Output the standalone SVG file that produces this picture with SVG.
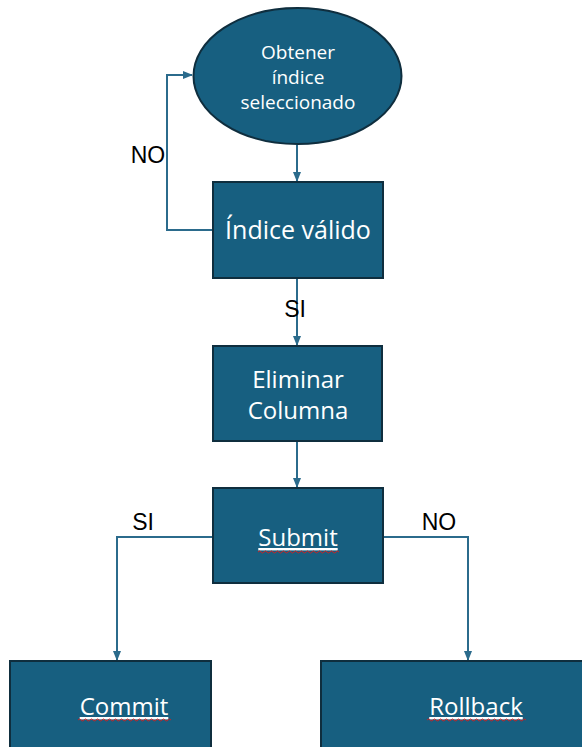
<svg xmlns="http://www.w3.org/2000/svg" width="582" height="747" viewBox="0 0 582 747">
  <style>
    .shape { fill: #175F80; stroke: #0F2E3E; stroke-width: 2; }
    .lbl { fill: #FFFFFF; font-family: "Open Sans", "Liberation Sans", sans-serif; text-anchor: middle; }
    .edge { fill: none; stroke: #2B6B8C; stroke-width: 2; }
    .cond { fill: #000000; font-family: "Liberation Sans", Arial, sans-serif; font-size: 23px; text-anchor: middle; }
    .squiggle { fill: none; stroke: #D02020; stroke-width: 1; }
  </style>
  <defs>
    <marker id="arrow" markerWidth="10" markerHeight="10" refX="9" refY="5" orient="auto" markerUnits="userSpaceOnUse">
      <path d="M0,1 L10,5 L0,9 Z" fill="#2B6B8C"/>
    </marker>
  </defs>
  <rect width="582" height="747" fill="#FFFFFF"/>

  <g id="connectors">
    <path class="edge" d="M297,145 L297,181" marker-end="url(#arrow)"/>
    <path class="edge" d="M213,230 L167,230 L167,75 L192,75" marker-end="url(#arrow)"/>
    <path class="edge" d="M297,278 L297,345" marker-end="url(#arrow)"/>
    <path class="edge" d="M297,441 L297,487" marker-end="url(#arrow)"/>
    <path class="edge" d="M213,537 L117,537 L117,660" marker-end="url(#arrow)"/>
    <path class="edge" d="M383,537 L468,537 L468,660" marker-end="url(#arrow)"/>
    <text class="cond" x="148" y="163">NO</text>
    <text class="cond" x="295" y="317">SI</text>
    <text class="cond" x="143" y="530">SI</text>
    <text class="cond" x="439" y="530">NO</text>
  </g>

  <g id="obtener">
    <ellipse class="shape" cx="297.5" cy="76" rx="104" ry="68"/>
    <text class="lbl" font-size="19" x="298" y="59">Obtener</text>
    <text class="lbl" font-size="19" x="298" y="84">índice</text>
    <text class="lbl" font-size="19" x="298" y="109">seleccionado</text>
  </g>

  <g id="indice-valido">
    <rect class="shape" x="213" y="182" width="170" height="96"/>
    <text class="lbl" font-size="25" x="298" y="239">Índice válido</text>
  </g>

  <g id="eliminar">
    <rect class="shape" x="213" y="346" width="169" height="95"/>
    <text class="lbl" font-size="24" x="298" y="388">Eliminar</text>
    <text class="lbl" font-size="24" x="298" y="419">Columna</text>
  </g>

  <g id="submit">
    <rect class="shape" x="213" y="488" width="170" height="95"/>
    <text class="lbl" font-size="24" x="298" y="546" text-decoration="underline">Submit</text>
    <path class="squiggle" d="M258,552 q1.5,-2 3,0 t3,0 t3,0 t3,0 t3,0 t3,0 t3,0 t3,0 t3,0 t3,0 t3,0 t3,0 t3,0 t3,0 t3,0 t3,0 t3,0 t3,0 t3,0 t3,0 t3,0 t3,0 t3,0 t3,0 t3,0 t3,0 t3,0"/>
  </g>

  <g id="commit">
    <rect class="shape" x="10" y="661" width="201" height="90"/>
    <text class="lbl" font-size="24" x="124" y="715" text-decoration="underline">Commit</text>
    <path class="squiggle" d="M78,720 q1.5,-2 3,0 t3,0 t3,0 t3,0 t3,0 t3,0 t3,0 t3,0 t3,0 t3,0 t3,0 t3,0 t3,0 t3,0 t3,0 t3,0 t3,0 t3,0 t3,0 t3,0 t3,0 t3,0 t3,0 t3,0 t3,0 t3,0 t3,0 t3,0 t3,0 t3,0 t3,0"/>
  </g>

  <g id="rollback">
    <rect class="shape" x="321" y="661" width="270" height="90"/>
    <text class="lbl" font-size="24" x="476" y="715" text-decoration="underline">Rollback</text>
    <path class="squiggle" d="M427,720 q1.5,-2 3,0 t3,0 t3,0 t3,0 t3,0 t3,0 t3,0 t3,0 t3,0 t3,0 t3,0 t3,0 t3,0 t3,0 t3,0 t3,0 t3,0 t3,0 t3,0 t3,0 t3,0 t3,0 t3,0 t3,0 t3,0 t3,0 t3,0 t3,0 t3,0 t3,0 t3,0 t3,0 t3,0"/>
  </g>
</svg>
